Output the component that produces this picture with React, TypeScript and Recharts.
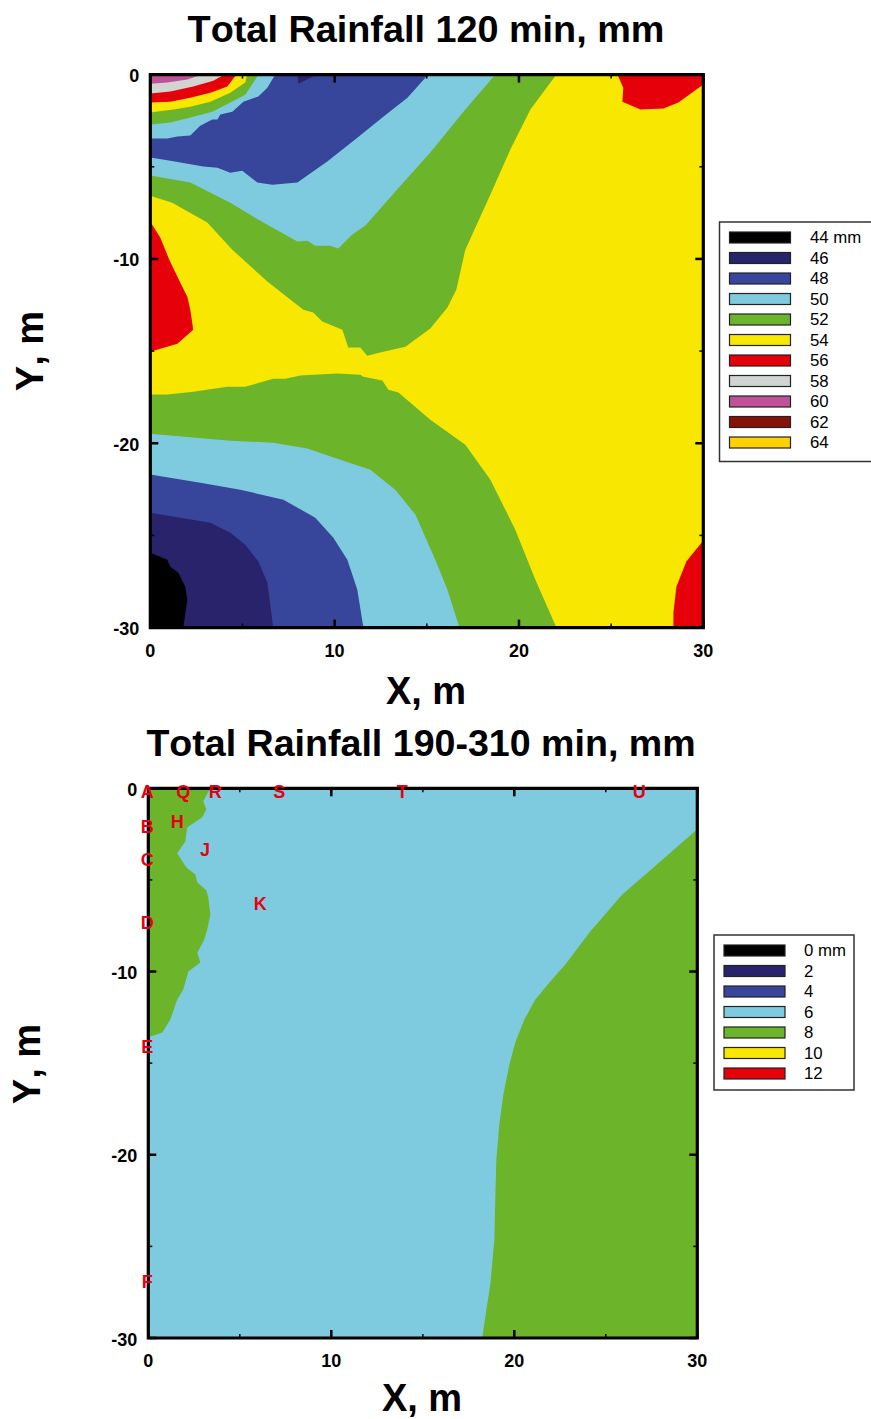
import { Scatter, ScatterChart, XAxis, YAxis } from "recharts";

type Vertex = [number, number];

type Band = {
  color: string;
  vertices: Vertex[];
};

const BLACK = "#000000";
const NAVY = "#29236b";
const BLUE = "#37459a";
const SKY = "#7ecadf";
const GREEN = "#6cb42a";
const YELLOW = "#f8e700";
const RED = "#e60009";
const GREY = "#d2d3d3";
const PURPLE = "#c0509a";
const MAROON = "#861208";
const GOLD = "#ffd100";

const axisDomainX = [0, 30];
const axisDomainY = [-30, 0];
const xTicks = [0, 5, 10, 15, 20, 25, 30];
const yTicks = [0, -5, -10, -15, -20, -25, -30];

const legendLabelsA = ["44 mm", "46", "48", "50", "52", "54", "56", "58", "60", "62", "64"];
const legendColorsA = [BLACK, NAVY, BLUE, SKY, GREEN, YELLOW, RED, GREY, PURPLE, MAROON, GOLD];
const legendLabelsB = ["0 mm", "2", "4", "6", "8", "10", "12"];
const legendColorsB = [BLACK, NAVY, BLUE, SKY, GREEN, YELLOW, RED];

const fullSquare: Vertex[] = [[0, 0], [30, 0], [30, -30], [0, -30]];

// panel a, contours in metres
const greenUpperA: Vertex[] = [
  [0, 0], [22.03, 0], [20.62, -1.9], [19.53, -4.07], [18.45, -6.51], [17.09, -9.5], [16.6, -11.67],
  [16.12, -12.64], [15.19, -13.78], [13.84, -14.76], [12.64, -15.03], [11.77, -15.25], [11.39, -14.81],
  [10.74, -14.81], [10.42, -13.84], [9.33, -13.4], [8.84, -12.91], [8.3, -12.75], [6.35, -11.23],
  [4.45, -9.5], [3.09, -8.03], [1.19, -6.95], [0, -6.57],
];
const skyUpperA: Vertex[] = [
  [5.86, 0], [5.7, -0.27], [5.15, -1.09], [4.34, -1.52], [3.36, -2.01], [2.17, -2.33], [1.09, -2.6], [0, -2.71],
  [0, -5.48], [2.17, -5.86], [4.34, -6.95], [6.13, -8.03], [7.98, -9.06], [8.52, -9.01], [8.95, -9.28],
  [9.77, -9.28], [10.2, -9.44], [10.96, -8.68], [11.67, -8.19], [13.73, -5.86], [15.19, -4.23], [17.09, -1.9], [18.72, 0],
];
const blueUpperA: Vertex[] = [
  [6.78, 0], [6.35, -0.71], [5.86, -1.19], [5.05, -1.47], [4.45, -2.01], [3.8, -2.17], [3.64, -2.44], [3.36, -2.44],
  [2.71, -2.77], [2.17, -3.31], [1.47, -3.36], [0.92, -3.47], [0, -3.47], [0, -4.5], [1.09, -4.67], [2.88, -4.99],
  [3.64, -5.05], [4.34, -5.32], [4.99, -5.21], [5.81, -5.86], [6.62, -5.97], [7.98, -5.86], [9.6, -4.72],
  [11.23, -3.42], [12.64, -2.28], [13.95, -1.25], [15.08, 0],
];
const navySliverA: Vertex[] = [[7.98, 0], [8.03, -0.49], [9.06, 0]];
const yellowCornerA: Vertex[] = [
  [0, 0], [5.26, 0], [5.15, -0.43], [4.34, -0.98], [3.26, -1.47], [2.17, -1.74], [1.25, -1.9], [0, -2.06],
];
const redCornerA: Vertex[] = [
  [0, 0], [4.67, 0], [4.18, -0.65], [3.26, -0.98], [2.17, -1.25], [1.09, -1.47], [0, -1.52],
];
const greyCornerA: Vertex[] = [[0, 0], [4.02, 0], [3.42, -0.33], [2.33, -0.65], [1.09, -0.92], [0, -1.03]];
const purpleCornerA: Vertex[] = [[0, 0], [2.82, 0], [2.01, -0.27], [0.92, -0.43], [0, -0.49]];
const redLeftA: Vertex[] = [
  [0, -7.98], [0.54, -8.84], [1.03, -10.04], [1.63, -11.29], [2.01, -12.05], [2.17, -12.75], [2.33, -13.84],
  [1.47, -14.6], [0, -15.03],
];
const redTopRightA: Vertex[] = [
  [25.34, 0], [25.66, -0.71], [25.61, -1.47], [26.59, -1.9], [27.84, -1.84], [28.65, -1.52], [30, -0.54], [30, 0],
];
const redBottomRightA: Vertex[] = [
  [30, -25.28], [29.08, -26.42], [28.54, -27.78], [28.38, -29.19], [28.38, -30], [30, -30],
];
const greenLowerA: Vertex[] = [
  [0, -17.36], [0.92, -17.36], [2.33, -17.2], [4.18, -16.93], [5.15, -16.93], [6.67, -16.5], [7.33, -16.5],
  [8.14, -16.33], [10.15, -16.22], [11.39, -16.28], [11.56, -16.39], [12.59, -16.6], [12.91, -17.09],
  [13.46, -17.25], [15.19, -18.72], [17.09, -20.08], [18.45, -21.98], [19.8, -24.69], [20.89, -27.4], [22.03, -30], [0, -30],
];
const skyLowerA: Vertex[] = [
  [0, -19.48], [4.34, -19.86], [6.67, -19.97], [8.52, -20.29], [10.31, -20.89], [11.94, -21.43], [13.29, -22.52],
  [14.38, -23.87], [15.46, -26.32], [16.12, -27.94], [16.77, -30], [0, -30],
];
const blueLowerA: Vertex[] = [
  [0, -21.7], [2.71, -22.14], [4.88, -22.52], [7.22, -23.06], [8.95, -24.04], [9.93, -25.12], [10.69, -26.32],
  [11.23, -27.94], [11.56, -30], [0, -30],
];
const navyLowerA: Vertex[] = [
  [0, -23.77], [3.26, -24.31], [4.34, -24.85], [5.15, -25.5], [5.86, -26.42], [6.35, -27.56], [6.67, -30], [0, -30],
];
const blackLowerA: Vertex[] = [
  [0, -25.94], [0.92, -26.32], [1.09, -26.7], [1.52, -27.02], [1.9, -27.78], [2.01, -28.49], [1.79, -30], [0, -30],
];

// panel b
const greenLeftB: Vertex[] = [
  [0, 0], [3.39, 0], [3.0, -0.71], [3.17, -1.15], [2.95, -1.58], [2.13, -2.13], [2.02, -2.9], [1.58, -3.55],
  [2.08, -4.32], [2.57, -4.7], [2.68, -5.14], [3.17, -5.57], [3.28, -5.96], [3.39, -6.89], [3.22, -7.7],
  [3.06, -8.25], [2.68, -8.96], [2.84, -9.51], [2.19, -10.0], [1.91, -10.98], [1.58, -11.53], [1.2, -12.62],
  [0.77, -13.33], [0.11, -13.55], [0, -13.6],
];
const greenRightB: Vertex[] = [
  [30, -2.24], [27.98, -3.99], [25.9, -5.79], [24.15, -7.81], [22.79, -9.62], [21.97, -10.55], [21.15, -11.53],
  [20.55, -12.62], [20.05, -13.88], [19.73, -15.08], [19.4, -16.72], [19.18, -18.36], [19.02, -20.27],
  [18.96, -22.46], [18.91, -24.64], [18.69, -27.1], [18.47, -28.47], [18.25, -30], [30, -30],
];

const bandsA: Band[] = [
  { color: YELLOW, vertices: fullSquare },
  { color: GREEN, vertices: greenUpperA },
  { color: SKY, vertices: skyUpperA },
  { color: BLUE, vertices: blueUpperA },
  { color: NAVY, vertices: navySliverA },
  { color: YELLOW, vertices: yellowCornerA },
  { color: RED, vertices: redCornerA },
  { color: GREY, vertices: greyCornerA },
  { color: PURPLE, vertices: purpleCornerA },
  { color: RED, vertices: redLeftA },
  { color: RED, vertices: redTopRightA },
  { color: RED, vertices: redBottomRightA },
  { color: GREEN, vertices: greenLowerA },
  { color: SKY, vertices: skyLowerA },
  { color: BLUE, vertices: blueLowerA },
  { color: NAVY, vertices: navyLowerA },
  { color: BLACK, vertices: blackLowerA },
];

const bandsB: Band[] = [
  { color: SKY, vertices: fullSquare },
  { color: GREEN, vertices: greenLeftB },
  { color: GREEN, vertices: greenRightB },
];

// survey points marked on panel b
const stationNames = ["A", "B", "C", "D", "E", "F", "H", "J", "K", "Q", "R", "S", "T", "U"];
const stationX = [0, 0, 0, 0, 0, 0, 1.63, 3.16, 6.17, 1.96, 3.71, 7.21, 13.93, 26.88];
const stationY = [-0.16, -2.08, -3.88, -7.32, -14.1, -26.94, -1.8, -3.33, -6.28, -0.16, -0.16, -0.16, -0.16, -0.16];

const FONT = '"Liberation Sans", Arial, sans-serif';
const noKerning = { fontKerning: "none" as const };

const isMajor = (value: number) => value % 10 === 0;

// frame and tick marks go on top of the filled contours, so they are series of their own
const frameVertices: Vertex[] = [[0, 0], [30, 0], [30, -30], [0, -30], [0, 0]];
const xTickStubs = xTicks.map((x) => ({ x, y: 0 }));
const xTickStubsBottom = xTicks.map((x) => ({ x, y: -30 }));
const yTickStubs = yTicks.map((y) => ({ x: 0, y }));
const yTickStubsRight = yTicks.map((y) => ({ x: 30, y }));

const stubWidth = (value: number) => (isMajor(value) ? 2.5 : 1.5);
const stubLength = (value: number) => (isMajor(value) ? 8 : 4);

const topStub = ({ cx, cy, payload }: any) => (
  <line x1={cx} x2={cx} y1={cy} y2={cy + stubLength(payload.x)} stroke="#000" strokeWidth={stubWidth(payload.x)} />
);
const bottomStub = ({ cx, cy, payload }: any) => (
  <line x1={cx} x2={cx} y1={cy} y2={cy - stubLength(payload.x)} stroke="#000" strokeWidth={stubWidth(payload.x)} />
);
const leftStub = ({ cx, cy, payload }: any) => (
  <line x1={cx} x2={cx + stubLength(payload.y)} y1={cy} y2={cy} stroke="#000" strokeWidth={stubWidth(payload.y)} />
);
const rightStub = ({ cx, cy, payload }: any) => (
  <line x1={cx} x2={cx - stubLength(payload.y)} y1={cy} y2={cy} stroke="#000" strokeWidth={stubWidth(payload.y)} />
);

const bottomTick = ({ x, y, payload }: any) =>
  isMajor(payload.value) ? (
    <text x={x} y={y + 29} textAnchor="middle" fontFamily={FONT} fontWeight="bold" fontSize={18} fill="#000">
      {payload.value}
    </text>
  ) : (
    <g />
  );

const leftTick = ({ x, y, payload }: any) =>
  isMajor(payload.value) ? (
    <text x={x - 11} y={y + 7.5} textAnchor="end" fontFamily={FONT} fontWeight="bold" fontSize={18} fill="#000">
      {payload.value}
    </text>
  ) : (
    <g />
  );

const stationShape = ({ cx, cy, name }: any) => (
  <text x={cx - 1} y={cy + 6.5} textAnchor="middle" fontFamily={FONT} fontWeight="bold" fontSize={18} fill="#e60012">
    {name}
  </text>
);

const noMarker = () => <g />;

type LegendBoxProps = {
  left: number;
  top: number;
  right: number;
  bottom: number;
  swatchLeft: number;
  swatchTop: number;
  labelLeft: number;
  labels: string[];
  colors: string[];
};

function LegendBox({ left, top, right, bottom, swatchLeft, swatchTop, labelLeft, labels, colors }: LegendBoxProps) {
  return (
    <g>
      <rect x={left} y={top} width={right - left} height={bottom - top} fill="#fff" stroke="#333" strokeWidth={1.5} />
      {labels.map((label, i) => (
        <g key={label}>
          <rect x={swatchLeft} y={swatchTop + i * 20.5} width={61} height={11} fill={colors[i]} stroke="#222" strokeWidth={1.2} />
          <text x={labelLeft} y={swatchTop + i * 20.5 + 11} fontFamily={FONT} fontSize={16.8} fill="#000">
            {label}
          </text>
        </g>
      ))}
    </g>
  );
}

type PanelProps = {
  height: number;
  plot: { left: number; top: number; right: number; bottom: number };
  bands: Band[];
  title: string;
  titleSize: number;
  titleX: number;
  titleY: number;
  letter: string;
  letterX: number;
  letterY: number;
  xLabelX: number;
  xLabelY: number;
  yLabelX: number;
  yLabelY: number;
  stations?: { x: number; y: number; name: string }[];
  legend: LegendBoxProps;
};

function Panel(p: PanelProps) {
  return (
    <ScatterChart
      width={871}
      height={p.height}
      margin={{ left: p.plot.left - 1, top: p.plot.top, right: 871 - p.plot.right, bottom: p.height - p.plot.bottom - 1 }}
      style={{ display: "block" }}
    >
      <XAxis xAxisId="bottom" type="number" dataKey="x" orientation="bottom" height={1} domain={axisDomainX} ticks={xTicks} interval={0} tickSize={0} tickMargin={0} tickLine={false} axisLine={false} tick={bottomTick} />
      <YAxis yAxisId="left" type="number" dataKey="y" orientation="left" width={1} domain={axisDomainY} ticks={yTicks} interval={0} tickSize={0} tickMargin={0} tickLine={false} axisLine={false} tick={leftTick} />

      {p.bands.map((band, i) => (
        <Scatter
          key={i}
          xAxisId="bottom"
          yAxisId="left"
          data={band.vertices.map(([x, y]) => ({ x, y }))}
          line={{ fill: band.color, stroke: "none" }}
          shape={noMarker}
          legendType="none"
          isAnimationActive={false}
        />
      ))}

      <Scatter xAxisId="bottom" yAxisId="left" data={xTickStubs} shape={topStub} legendType="none" isAnimationActive={false} />
      <Scatter xAxisId="bottom" yAxisId="left" data={xTickStubsBottom} shape={bottomStub} legendType="none" isAnimationActive={false} />
      <Scatter xAxisId="bottom" yAxisId="left" data={yTickStubs} shape={leftStub} legendType="none" isAnimationActive={false} />
      <Scatter xAxisId="bottom" yAxisId="left" data={yTickStubsRight} shape={rightStub} legendType="none" isAnimationActive={false} />
      <Scatter
        xAxisId="bottom"
        yAxisId="left"
        data={frameVertices.map(([x, y]) => ({ x, y }))}
        line={{ stroke: "#000", strokeWidth: 3.2, strokeLinecap: "square" }}
        shape={noMarker}
        legendType="none"
        isAnimationActive={false}
      />

      {p.stations && (
        <Scatter xAxisId="bottom" yAxisId="left" data={p.stations} shape={stationShape} legendType="none" isAnimationActive={false} />
      )}

      <text x={p.titleX} y={p.titleY} textAnchor="middle" fontFamily={FONT} fontWeight="bold" fontSize={p.titleSize} fill="#000" style={noKerning}>
        {p.title}
      </text>
      <text x={p.letterX} y={p.letterY} textAnchor="middle" fontFamily={FONT} fontWeight="bold" fontSize={36} fill="#000">
        {p.letter}
      </text>
      <text x={p.xLabelX} y={p.xLabelY} textAnchor="middle" fontFamily={FONT} fontWeight="bold" fontSize={38} fill="#000" style={noKerning}>
        X, m
      </text>
      <text
        x={p.yLabelX}
        y={p.yLabelY}
        textAnchor="middle"
        transform={`rotate(-90 ${p.yLabelX} ${p.yLabelY})`}
        fontFamily={FONT}
        fontWeight="bold"
        fontSize={38}
        fill="#000"
        style={noKerning}
      >
        Y, m
      </text>
      <LegendBox {...p.legend} />
    </ScatterChart>
  );
}

export default function App() {
  const stations = stationNames.map((name, i) => ({ name, x: stationX[i], y: stationY[i] }));

  return (
    <div style={{ position: "absolute", left: 0, top: 0, width: 871, height: 1419, overflow: "hidden", background: "#fff" }}>
      <div style={{ position: "absolute", left: 0, top: 0 }}>
        <Panel
          height={714}
          plot={{ left: 150.3, top: 74.6, right: 703.3, bottom: 627.6 }}
          bands={bandsA}
          title="Total Rainfall 120 min, mm"
          titleSize={37.8}
          titleX={426}
          titleY={42}
          letter="a"
          letterX={669}
          letterY={149}
          xLabelX={426}
          xLabelY={704}
          yLabelX={43}
          yLabelY={351}
          legend={{
            left: 719.5,
            top: 222,
            right: 890,
            bottom: 461.5,
            swatchLeft: 729.5,
            swatchTop: 232,
            labelLeft: 810,
            labels: legendLabelsA,
            colors: legendColorsA,
          }}
        />
      </div>
      <div style={{ position: "absolute", left: 0, top: 710 }}>
        <Panel
          height={709}
          plot={{ left: 148.3, top: 78.3, right: 697.3, bottom: 628 }}
          bands={bandsB}
          stations={stations}
          title="Total Rainfall 190-310 min, mm"
          titleSize={37.6}
          titleX={421}
          titleY={46}
          letter="b"
          letterX={611}
          letterY={134}
          xLabelX={422}
          xLabelY={701}
          yLabelX={40}
          yLabelY={354}
          legend={{
            left: 714,
            top: 225,
            right: 854,
            bottom: 380,
            swatchLeft: 724,
            swatchTop: 235,
            labelLeft: 804,
            labels: legendLabelsB,
            colors: legendColorsB,
          }}
        />
      </div>
    </div>
  );
}
